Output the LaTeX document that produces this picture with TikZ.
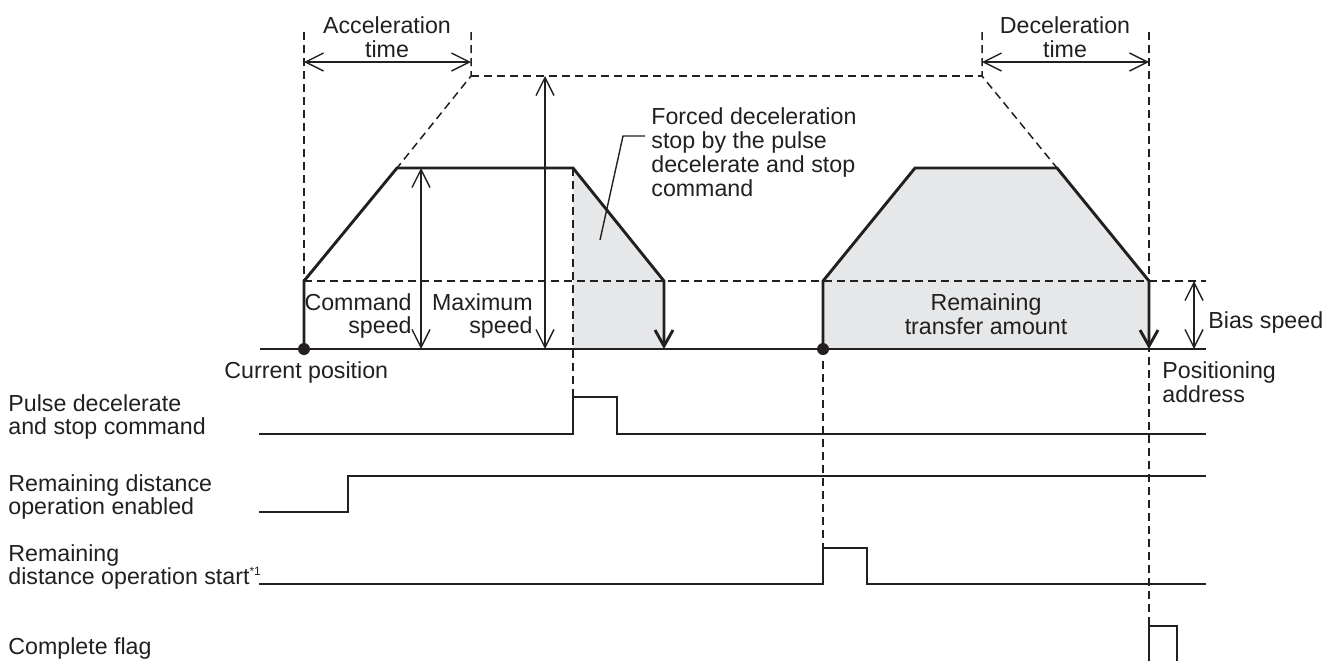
\documentclass[tikz,border=0pt]{standalone}
\usepackage{fontspec}
\setmainfont{Liberation Sans}
\usetikzlibrary{arrows.meta}
\definecolor{ink}{HTML}{231F20}
\definecolor{areagray}{HTML}{E6E7E8}
\begin{document}
\begin{tikzpicture}[x=0.5pt,y=-0.5pt,
  lbl/.style={font=\fontsize{11.6}{11.9}\selectfont, inner sep=0pt, text=ink},
  thickline/.style={ink, line width=1.45pt, line join=miter},
  sig/.style={ink, line width=0.8pt},
  dsh/.style={ink, line width=0.75pt, dash pattern=on 4pt off 2.5pt},
  dimarrow/.style={ink, line width=0.7pt, {Straight Barb[length=9pt,width=9pt]}-{Straight Barb[length=9pt,width=9pt]}},
  downtip/.style={-{Straight Barb[length=8pt,width=9pt]}},
  ]
\useasboundingbox (0,0) rectangle (1322,660);
% profile points
\coordinate (A0) at (304,349);
\coordinate (A1) at (304,281);
\coordinate (A2) at (397,168);
\coordinate (A3) at (573,168);
\coordinate (A4) at (664,281);
\coordinate (A5) at (664,349);
\coordinate (A6) at (573,349);
\coordinate (B0) at (823,349);
\coordinate (B1) at (823,281);
\coordinate (B2) at (915,168);
\coordinate (B3) at (1057,168);
\coordinate (B4) at (1149,281);
\coordinate (B5) at (1149,349);
% guide points
\coordinate (accL) at (304,32);
\coordinate (accR) at (471,32);
\coordinate (accRb) at (471,76);
\coordinate (decL) at (982,32);
\coordinate (decLb) at (982,76);
\coordinate (decR) at (1149,32);
\coordinate (decRb) at (1149,626);
\coordinate (biasEnd) at (1206,281);
\coordinate (baseL) at (260,349);
\coordinate (baseR) at (1206,349);
\coordinate (pcmdTop) at (573,397);
\coordinate (rstTop) at (823,548);
% shaded areas
\fill[areagray] (A3) -- (A4) -- (A5) -- (A6) -- cycle;
\fill[areagray] (B0) -- (B1) -- (B2) -- (B3) -- (B4) -- (B5) -- cycle;
% dashed guides
\draw[dsh] (accL) -- (A1);
\draw[dsh] (accR) -- (accRb) -- (A2);
\draw[dsh] (accRb) -- (decLb);
\draw[dsh] (decL) -- (decLb) -- (B3);
\draw[dsh] (decR) -- (decRb);
\draw[dsh] (A1) -- (biasEnd);
\draw[dsh] (A3) -- (pcmdTop);
\draw[dsh, shorten <=6pt] (B0) -- (rstTop);
% baseline
\draw[ink, line width=1pt] (baseL) -- (baseR);
% speed profiles
\draw[thickline, downtip] (A0) -- (A1) -- (A2) -- (A3) -- (A4) -- (A5);
\draw[thickline, downtip] (B0) -- (B1) -- (B2) -- (B3) -- (B4) -- (B5);
\fill[ink] (A0) circle (3pt);
\fill[ink] (B0) circle (3pt);
% dimension arrows
\coordinate (accA) at (304,62); \coordinate (accB) at (471,62);
\coordinate (decA) at (982,62); \coordinate (decB) at (1149,62);
\coordinate (cmdA) at (421,168); \coordinate (cmdB) at (421,349);
\coordinate (maxA) at (545,76); \coordinate (maxB) at (545,349);
\coordinate (biaA) at (1194,281); \coordinate (biaB) at (1194,349);
\draw[dimarrow] (accA) -- (accB);
\draw[dimarrow] (decA) -- (decB);
\draw[dimarrow] (cmdA) -- (cmdB);
\draw[dimarrow] (maxA) -- (maxB);
\draw[dimarrow] (biaA) -- (biaB);
% leader
\coordinate (ldA) at (600,240); \coordinate (ldB) at (623,136); \coordinate (ldC) at (645,136);
\draw[ink, line width=0.7pt] (ldA) -- (ldB) -- (ldC);
% signals
\coordinate (s1a) at (259,434); \coordinate (s1b) at (573,434); \coordinate (s1c) at (573,397);
\coordinate (s1d) at (617,397); \coordinate (s1e) at (617,434); \coordinate (s1f) at (1206,434);
\draw[sig] (s1a) -- (s1b) -- (s1c) -- (s1d) -- (s1e) -- (s1f);
\coordinate (s2a) at (259,512); \coordinate (s2b) at (348,512); \coordinate (s2c) at (348,476);
\coordinate (s2d) at (1206,476);
\draw[sig] (s2a) -- (s2b) -- (s2c) -- (s2d);
\coordinate (s3a) at (259,584); \coordinate (s3b) at (823,584); \coordinate (s3c) at (823,548);
\coordinate (s3d) at (867,548); \coordinate (s3e) at (867,584); \coordinate (s3f) at (1206,584);
\draw[sig] (s3a) -- (s3b) -- (s3c) -- (s3d) -- (s3e) -- (s3f);
\coordinate (s4a) at (1149,662); \coordinate (s4b) at (1149,626); \coordinate (s4c) at (1177,626);
\coordinate (s4d) at (1177,662);
\draw[sig] (s4a) -- (s4b) -- (s4c) -- (s4d);
% labels
\node[lbl, align=center] (tAcc) at (387,37) {Acceleration\\time};
\node[lbl, align=center] (tDec) at (1065,37) {Deceleration\\time};
\node[lbl, align=left, anchor=west] (tForced) at (651,152) {Forced deceleration\\stop by the pulse\\decelerate and stop\\command};
\node[lbl, align=right, anchor=east] (tCmd) at (412,316) {Command\\speed};
\node[lbl, align=right, anchor=east] (tMax) at (533,316) {Maximum\\speed};
\node[lbl, align=center] (tRem) at (986,314) {Remaining\\transfer amount};
\node[lbl, anchor=base west] (tBias) at (1208,328) {Bias speed};
\node[lbl, anchor=base west] (tCur) at (224,378) {Current position};
\node[lbl, align=left, anchor=west] (tPos) at (1162,382) {Positioning\\address};
\node[lbl, align=left, anchor=west] (tPulse) at (8,417) {Pulse decelerate\\and stop command};
\node[lbl, align=left, anchor=west] (tEn) at (8,497) {Remaining distance\\operation enabled};
\node[lbl, align=left, anchor=west] (tStart) at (8,567) {Remaining\\distance operation start{\fontsize{6}{6}\selectfont\raisebox{4.5pt}{*1}}};
\node[lbl, anchor=base west] (tFlag) at (8,654) {Complete flag};
\end{tikzpicture}
\end{document}
